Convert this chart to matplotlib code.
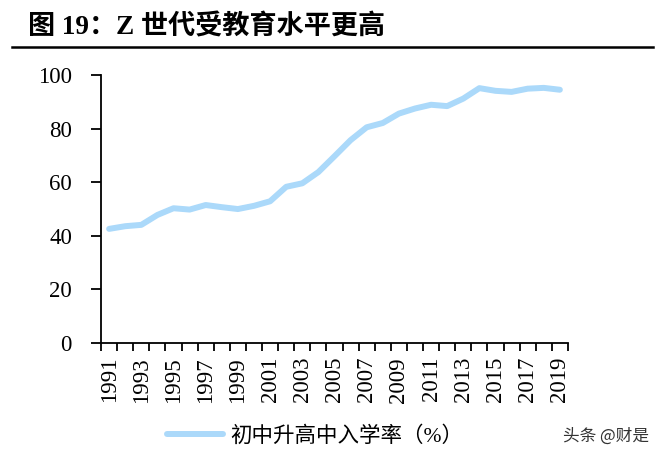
import matplotlib
matplotlib.use('Agg')
import matplotlib.pyplot as plt
from matplotlib.lines import Line2D

# data
years = list(range(1991, 2020))
rate = [42.6, 43.6, 44.1, 47.8, 50.3, 49.8, 51.5, 50.7, 50.0, 51.2,
        52.9, 58.3, 59.6, 63.8, 69.7, 75.7, 80.5, 82.1, 85.6, 87.5,
        88.9, 88.4, 91.2, 95.1, 94.1, 93.7, 94.9, 95.2, 94.5]
yticks = [0, 20, 40, 60, 80, 100]
series_name = '初中升高中入学率（%）'
title = '图 19：Z 世代受教育水平更高'

serif_cjk = ['Liberation Serif', 'Noto Sans CJK SC']
line_color = '#ABD9FA'

fig = plt.figure(figsize=(6.65, 4.63), dpi=100)
ax = fig.add_axes([0.152, 0.259, 0.702, 0.579])

x = list(range(len(years)))
ax.plot(x, rate, color=line_color, lw=4.3, solid_capstyle='round',
        solid_joinstyle='round')

ax.set_xlim(-0.5, len(years) - 0.5)
ax.set_ylim(0, 100)

# category boundaries as major ticks, labels on every other year
ax.set_xticks([i - 0.5 for i in range(len(years) + 1)])
ax.set_xticklabels([])
ax.set_xticks(x[::2], minor=True)
ax.set_xticklabels([str(y) for y in years[::2]], minor=True, rotation=90,
                   family='Liberation Serif', fontsize=16.5)
ax.tick_params(axis='x', which='major', direction='out', length=6, width=1.3)
ax.tick_params(axis='x', which='minor', length=0, pad=10)

ax.set_yticks(yticks)
ax.set_yticklabels([str(v) for v in yticks], family='Liberation Serif',
                   fontsize=16.5)
ax.tick_params(axis='y', direction='out', length=7, width=1.3, pad=14)

for side in ['top', 'right']:
    ax.spines[side].set_visible(False)
for side in ['left', 'bottom']:
    ax.spines[side].set_linewidth(1.3)

# title and rule under it
fig.text(0.042, 0.94, title, family=serif_cjk, fontweight='bold',
         fontsize=19.5, va='center', ha='left')
fig.add_artist(Line2D([0.018, 0.982], [0.899, 0.899], color='black', lw=1.8))

# legend at the bottom
handle = Line2D([], [], color=line_color, lw=4.3, solid_capstyle='round')
leg = fig.legend([handle], [series_name], loc='center',
                 bbox_to_anchor=(0.474, 0.058), frameon=False,
                 handlelength=2.6, handletextpad=0.3,
                 prop={'family': serif_cjk, 'size': 15.5})

# watermark
fig.text(0.847, 0.058, '头条 @财是', family=['Noto Sans CJK SC', 'DejaVu Sans'],
         fontsize=12, color='#333333', va='center', ha='left')

fig.savefig('out.png', dpi=100)
